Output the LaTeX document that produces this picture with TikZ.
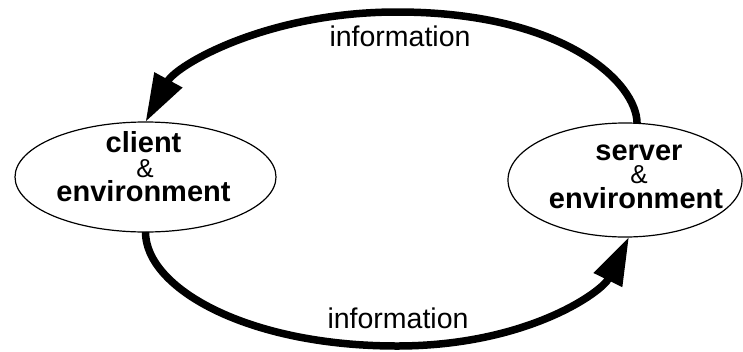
\documentclass[tikz,border=0pt]{standalone}
\usepackage{fontspec}
\setmainfont{Liberation Sans}
\usetikzlibrary{arrows.meta,shapes.geometric}
\tikzset{
  place/.style={draw, ellipse, line width=1.2pt, inner sep=0pt, outer sep=0pt},
  boldline/.style={anchor=base, inner sep=0pt, font=\fontsize{29}{29}\selectfont\bfseries},
  ampline/.style={anchor=base, inner sep=0pt, font=\fontsize{26}{26}\selectfont},
  infolabel/.style={anchor=base, inner sep=0pt, font=\fontsize{28.5}{28.5}\selectfont},
  flow/.style={line width=7.5pt, -{Triangle[length=48pt,width=30pt]}}
}
\begin{document}
\begin{tikzpicture}[x=1pt,y=-1pt]
\useasboundingbox (0,0) rectangle (743,351);
\node[place, minimum width=261pt, minimum height=110pt] (cl) at (145.5,177) {};
\node[place, minimum width=234pt, minimum height=114pt] (sv) at (625,180) {};
\node[boldline] (cl1) at (143.5,152) {client};
\node[ampline]  (cl2) at (145,177) {\&};
\node[boldline] (cl3) at (143.5,201) {environment};
\node[boldline] (sv1) at (639,160) {server};
\node[ampline]  (sv2) at (639,183) {\&};
\node[boldline] (sv3) at (636,208) {environment};
\coordinate (topmid) at (397,12);
\coordinate (botmid) at (397,346);
\draw[flow] (sv.78) .. controls +(0,-40) and +(168,0) .. (topmid)
  .. controls +(-130,0) and +(31,-57) .. (cl.north);
\draw[flow] (cl.south) .. controls +(0,56) and +(-150,0) .. (botmid)
  .. controls +(130,0) and +(-27,55) .. (sv.-86);
\node[infolabel] (info1) at (400,46) {information};
\node[infolabel] (info2) at (398,328) {information};
\end{tikzpicture}
\end{document}
